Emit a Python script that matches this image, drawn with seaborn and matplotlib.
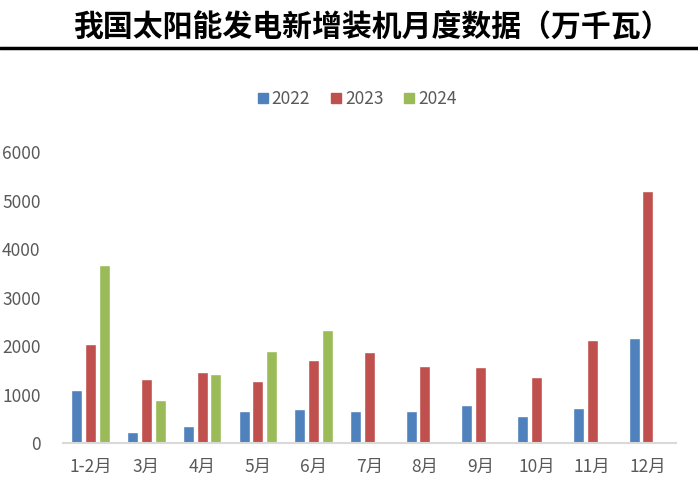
import pandas as pd
import matplotlib.pyplot as plt
import seaborn as sns
from matplotlib.lines import Line2D

months = ['1-2月', '3月', '4月', '5月', '6月', '7月', '8月', '9月', '10月', '11月', '12月']
years = ['2022', '2023', '2024']
v2022 = [1086, 220, 359, 670, 705, 670, 664, 795, 552, 733, 2159]
v2023 = [2041, 1321, 1459, 1287, 1708, 1875, 1590, 1563, 1356, 2124, 5203]
v2024 = [3674, 892, 1432, 1902, 2331]
yticks = [0, 1000, 2000, 3000, 4000, 5000, 6000]
colors = ['#4F81BD', '#C0504D', '#9BBB59']

rows = []
for yr, vals in zip(years, [v2022, v2023, v2024]):
    for m, v in zip(months, vals):
        rows.append({'月份': m, '年份': yr, '值': v})
df = pd.DataFrame(rows)

sns.set_style('white')
plt.rcParams['font.family'] = ['Noto Sans CJK SC', 'DejaVu Sans']

fig = plt.figure(figsize=(6.98, 4.94), dpi=100)
ax = fig.add_axes([0.09, 0.103, 0.878, 0.589])

sns.barplot(data=df, x='月份', y='值', hue='年份', order=months, hue_order=years,
            palette=colors, width=0.74, gap=0.2, saturation=1, ax=ax, legend=False)

ax.set_ylim(0, 6000)
ax.set_xlim(-0.5, len(months) - 0.5)
ax.set_yticks(yticks)
ax.set_xlabel('')
ax.set_ylabel('')
for s in ['top', 'right', 'left']:
    ax.spines[s].set_visible(False)
ax.spines['bottom'].set_color('#D9D9D9')
ax.spines['bottom'].set_linewidth(1.5)
ax.tick_params(axis='both', length=0, colors='#595959')
ax.tick_params(axis='x', pad=11, labelsize=12.5)
ax.tick_params(axis='y', pad=16, labelsize=12.5)

handles = [Line2D([0], [0], marker='s', linestyle='', markersize=6.5, color=c) for c in colors]
fig.legend(handles, years, loc='center', bbox_to_anchor=(0.508, 0.80), ncol=3, frameon=False,
           fontsize=12.5, labelcolor='#595959', handletextpad=-0.1, columnspacing=0.9,
           handlelength=1.2)

fig.text(0.532, 0.945, '我国太阳能发电新增装机月度数据（万千瓦）', ha='center', va='center',
         fontsize=21.5, fontweight='bold', color='black')
fig.add_artist(Line2D([0, 1], [0.903, 0.903], color='black', linewidth=2.5, transform=fig.transFigure))

fig.savefig('out.png', dpi=100)
